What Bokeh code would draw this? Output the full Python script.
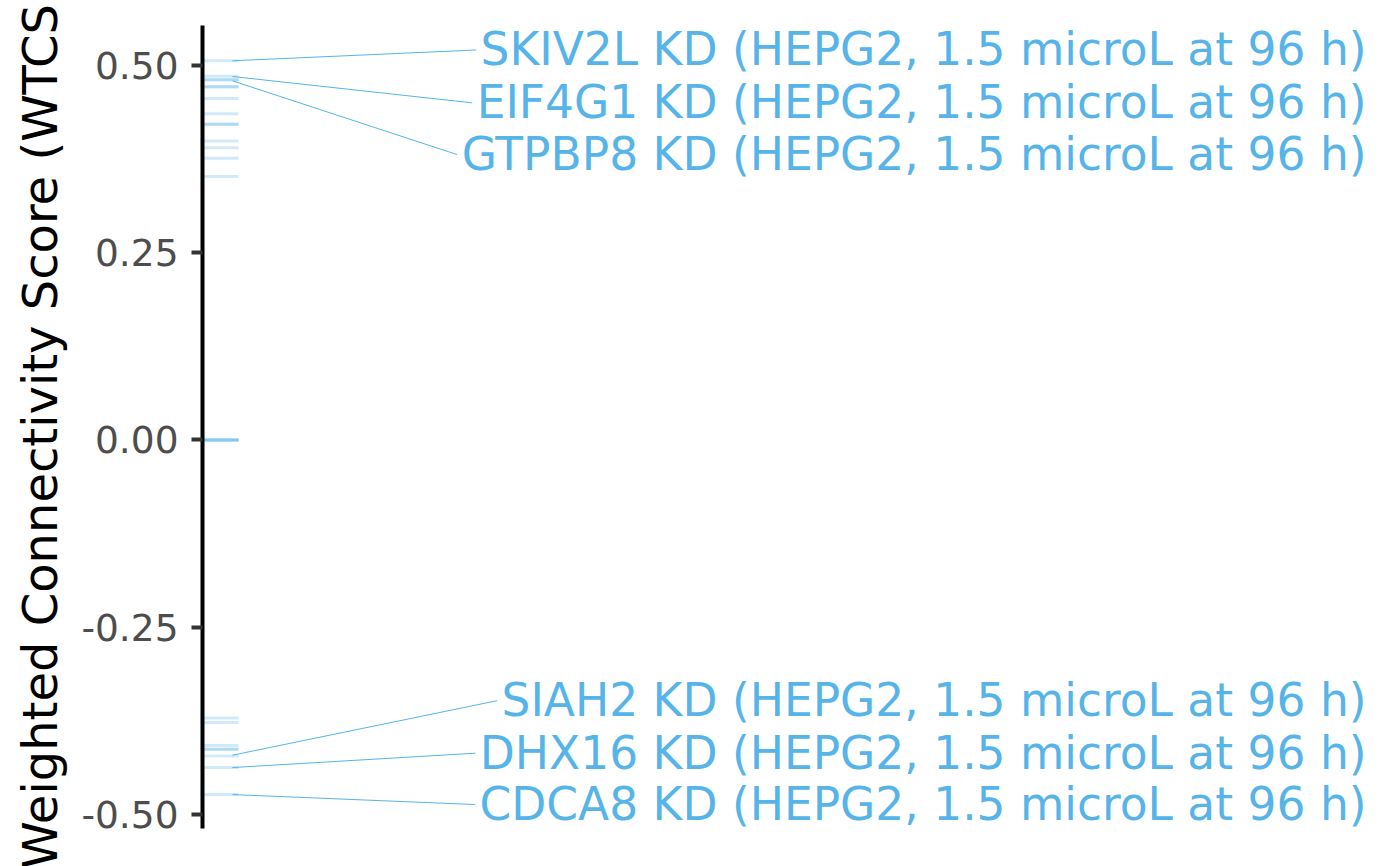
from bokeh.plotting import figure
from bokeh.models import Range1d, FixedTicker, PrintfTickFormatter, ColumnDataSource
from bokeh.core.properties import value
from bokeh.embed import file_html
from bokeh.resources import INLINE

# ---- data ----
# rug values (WTCS of all connected signatures)
wtcs_pos = [0.5063, 0.4857, 0.4809, 0.4809, 0.4715, 0.4715, 0.4559, 0.4354,
            0.4215, 0.4215, 0.3993, 0.3900, 0.3761, 0.3516]
wtcs_zero = [0.0, 0.0, 0.0, 0.0]
wtcs_neg = [-0.3713, -0.3774, -0.4082, -0.4131, -0.4131, -0.4221, -0.4376, -0.4737]

# labelled signatures
label_names = ["SKIV2L", "EIF4G1", "GTPBP8", "SIAH2", "DHX16", "CDCA8"]
label_wtcs = [0.5063, 0.4853, 0.4795, -0.4211, -0.4376, -0.4737]
label_texts = [n + " KD (HEPG2, 1.5 microL at 96 h)" for n in label_names]
# repelled label positions (label centre on WTCS scale) and segment ends
label_y = [0.5207, 0.4501, 0.3810, -0.3483, -0.4184, -0.4870]
seg_end_x = [273.7, 269.7, 254.7, 294.7, 273.0, 272.7]

y_ticks = [-0.5, -0.25, 0.0, 0.25, 0.5]

BLUE = "#56B4E9"
FONT = "DejaVu Sans"

p = figure(width=1400, height=866, output_backend="svg", toolbar_location=None,
           x_range=Range1d(0, 1198), y_range=Range1d(-0.519, 0.5534),
           min_border_left=202, min_border_right=0, min_border_top=25,
           min_border_bottom=38, x_axis_location=None)
p.outline_line_color = None
p.xgrid.visible = False
p.ygrid.visible = False
p.background_fill_color = "white"
p.border_fill_color = "white"

# rug
all_vals = wtcs_pos + wtcs_zero + wtcs_neg
rug = ColumnDataSource(dict(y=all_vals, x0=[0] * len(all_vals), x1=[36] * len(all_vals)))
p.segment(x0="x0", x1="x1", y0="y", y1="y", source=rug, line_color=BLUE,
          line_alpha=0.28, line_width=3)

# leader segments
seg = ColumnDataSource(dict(x0=[30] * len(label_wtcs), y0=label_wtcs,
                            x1=seg_end_x, y1=label_y))
p.segment(x0="x0", y0="y0", x1="x1", y1="y1", source=seg, line_color=BLUE,
          line_width=1.0)

# labels
lab = ColumnDataSource(dict(x=[1164] * len(label_texts), y=label_y, t=label_texts))
p.text(x="x", y="y", text="t", source=lab, text_color=BLUE,
       text_font=value(FONT), text_font_size="45.5px",
       text_align="right", text_baseline="middle")

ax = p.yaxis[0]
ax.ticker = FixedTicker(ticks=y_ticks)
ax.formatter = PrintfTickFormatter(format="%.2f")
ax.minor_tick_line_color = None
ax.axis_line_color = "black"
ax.axis_line_width = 4
ax.major_tick_line_color = "#333333"
ax.major_tick_line_width = 4
ax.major_tick_out = 11
ax.major_tick_in = 0
ax.major_label_standoff = 13
ax.major_label_text_font = FONT
ax.major_label_text_font_size = "37.5px"
ax.major_label_text_color = "#4D4D4D"
ax.axis_label = "Weighted Connectivity Score (WTCS)"
ax.axis_label_text_font = FONT
ax.axis_label_text_font_size = "48px"
ax.axis_label_text_font_style = "normal"
ax.axis_label_text_color = "black"
ax.axis_label_standoff = 10

open("out.html", "w").write(file_html(p, INLINE))
